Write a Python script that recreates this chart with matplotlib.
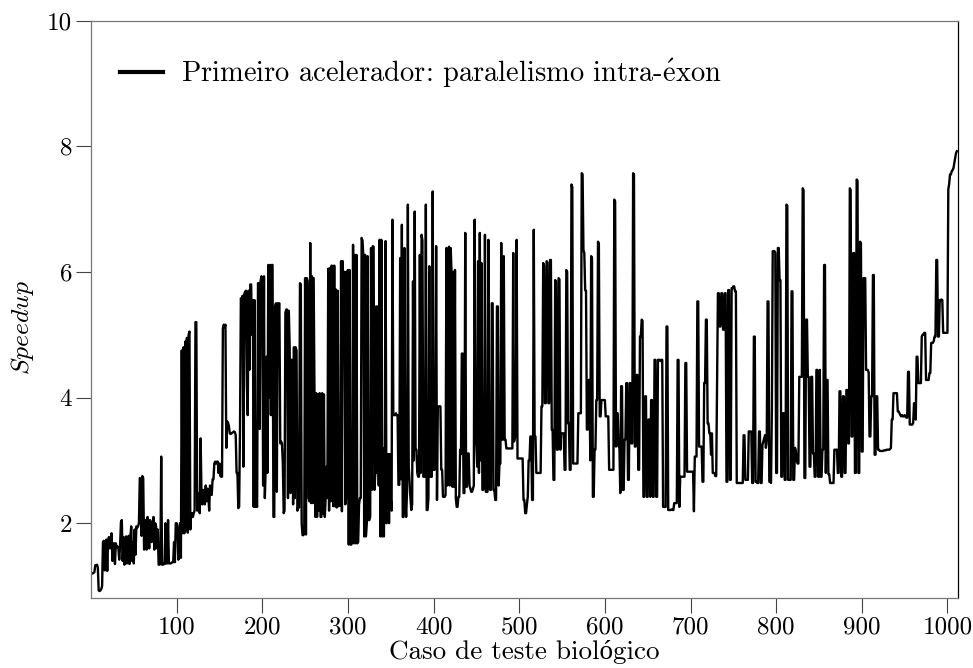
import matplotlib
matplotlib.use("Agg")
import matplotlib.pyplot as plt
import numpy as np

# ---- data (speedup per biological test case) ----
speedup = [
    1.20, 1.20, 1.21, 1.22, 1.33, 1.33, 1.34, 1.30, 0.93, 0.92,
    0.93, 0.95, 1.00, 1.70, 1.72, 1.25, 1.70, 1.74, 1.24, 1.72,
    1.78, 1.60, 1.70, 1.84, 1.40, 1.68, 1.68, 1.35, 1.68, 1.62,
    1.63, 1.60, 1.42, 1.65, 2.02, 2.05, 1.40, 1.78, 1.34, 1.75,
    1.79, 1.36, 1.72, 1.80, 1.35, 1.78, 1.95, 1.40, 1.70, 1.36,
    1.90, 1.50, 1.95, 1.93, 1.95, 2.00, 2.72, 2.70, 1.80, 2.75,
    2.72, 1.58, 1.60, 2.05, 1.58, 2.10, 1.90, 1.60, 2.05, 2.00,
    1.70, 1.95, 2.10, 1.58, 2.00, 1.95, 1.60, 1.90, 1.34, 1.34,
    1.35, 3.06, 1.34, 1.34, 1.36, 1.35, 2.00, 1.36, 1.36, 2.05,
    1.36, 1.36, 1.36, 1.37, 1.38, 1.38, 1.70, 1.38, 2.00, 2.00,
    1.95, 1.42, 1.45, 2.00, 1.45, 4.75, 1.84, 4.80, 1.84, 4.89,
    1.90, 4.95, 1.85, 5.00, 5.05, 1.90, 2.16, 2.16, 2.10, 2.16,
    2.20, 5.20, 5.20, 2.20, 2.48, 2.30, 2.16, 3.35, 2.50, 2.30,
    2.53, 2.40, 2.30, 2.60, 2.35, 2.55, 2.45, 2.20, 2.60, 2.50,
    2.45, 2.70, 2.70, 2.95, 2.98, 2.95, 2.98, 2.98, 2.80, 2.95,
    2.75, 2.74, 2.74, 5.10, 5.16, 5.12, 5.16, 3.20, 3.62, 3.60,
    3.55, 3.43, 3.42, 3.43, 3.44, 3.45, 3.46, 3.45, 3.40, 2.80,
    2.80, 2.24, 2.26, 3.50, 5.58, 5.55, 5.62, 2.90, 5.65, 5.68,
    5.70, 4.20, 3.72, 5.70, 4.44, 5.80, 5.80, 5.00, 5.55, 2.26,
    5.55, 2.26, 2.30, 2.26, 5.82, 5.82, 3.50, 5.85, 5.93, 5.90,
    2.60, 5.93, 2.40, 2.90, 4.65, 2.80, 6.11, 4.00, 6.11, 3.72,
    6.11, 6.11, 2.10, 2.10, 5.45, 5.50, 2.50, 5.50, 5.48, 5.50,
    3.27, 3.30, 3.27, 2.95, 2.16, 2.20, 5.35, 5.40, 5.40, 2.40,
    5.38, 4.80, 2.48, 4.60, 4.60, 2.30, 4.80, 2.40, 4.80, 4.75,
    2.20, 2.26, 2.25, 5.82, 5.80, 2.00, 1.81, 1.81, 1.85, 5.90,
    1.82, 5.90, 5.85, 2.40, 2.35, 6.46, 2.32, 5.93, 2.32, 5.90,
    4.07, 2.10, 4.07, 2.10, 4.05, 2.20, 4.07, 2.10, 2.10, 4.07,
    2.15, 4.05, 2.10, 2.40, 2.90, 2.40, 6.05, 2.20, 6.06, 2.35,
    6.10, 3.00, 2.27, 6.10, 2.27, 5.72, 2.25, 5.70, 2.27, 2.30,
    2.28, 6.17, 2.19, 6.17, 4.87, 6.00, 2.30, 6.00, 2.40, 6.03,
    1.66, 6.03, 1.66, 1.66, 1.70, 6.43, 1.68, 6.27, 1.68, 6.27,
    1.68, 1.70, 2.30, 2.40, 2.40, 6.54, 6.50, 6.27, 1.79, 6.27,
    1.79, 2.00, 6.25, 2.05, 2.05, 2.10, 6.38, 2.53, 6.41, 6.40,
    2.53, 2.80, 5.45, 2.80, 5.45, 2.60, 6.51, 1.79, 6.51, 1.79,
    3.19, 1.79, 3.22, 6.49, 2.00, 2.20, 3.10, 2.00, 3.10, 2.40,
    2.20, 6.83, 3.72, 3.72, 3.72, 3.75, 3.72, 3.72, 2.61, 2.61,
    6.22, 2.70, 6.75, 2.10, 2.10, 6.38, 2.40, 2.10, 2.50, 7.07,
    2.90, 2.64, 2.40, 2.21, 2.30, 5.85, 3.00, 6.96, 3.17, 3.17,
    2.80, 2.74, 2.74, 6.27, 2.80, 6.59, 6.50, 2.74, 2.74, 2.74,
    7.07, 2.21, 2.21, 2.40, 6.09, 2.74, 2.74, 2.74, 7.28, 2.85,
    2.85, 2.90, 6.41, 2.37, 3.86, 3.86, 3.86, 3.86, 2.85, 2.85,
    2.42, 2.42, 2.42, 2.45, 6.38, 2.60, 5.98, 6.40, 2.60, 6.38,
    5.98, 2.58, 6.00, 2.58, 6.03, 2.40, 2.26, 2.26, 2.42, 2.42,
    3.17, 3.10, 4.70, 4.70, 2.48, 2.48, 6.62, 2.58, 2.58, 3.11,
    3.11, 2.60, 2.55, 2.50, 2.50, 2.55, 2.60, 6.83, 3.27, 3.27,
    2.90, 6.17, 2.80, 6.62, 3.00, 6.14, 2.53, 2.53, 2.60, 6.59,
    2.50, 2.50, 2.50, 6.51, 2.60, 2.53, 2.53, 5.50, 5.50, 2.53,
    2.53, 2.37, 2.37, 5.45, 5.45, 2.60, 2.95, 2.95, 6.46, 3.33,
    3.33, 6.25, 3.33, 3.33, 3.19, 3.19, 3.19, 3.19, 3.19, 3.19,
    3.19, 3.19, 6.30, 3.30, 3.38, 3.38, 6.51, 3.03, 3.03, 3.03,
    3.03, 3.03, 3.03, 3.03, 2.37, 2.37, 2.16, 2.16, 2.30, 2.42,
    3.00, 3.00, 3.38, 3.38, 2.37, 2.37, 6.67, 3.38, 3.38, 2.80,
    2.80, 2.80, 2.80, 2.80, 2.80, 3.86, 3.86, 6.14, 6.10, 3.91,
    3.91, 6.17, 6.15, 3.91, 3.91, 6.19, 6.19, 3.49, 3.49, 2.69,
    2.69, 5.87, 5.85, 3.17, 3.17, 5.90, 5.88, 3.17, 3.43, 3.43,
    3.43, 3.43, 2.85, 2.85, 6.03, 6.00, 3.59, 3.59, 2.85, 2.85,
    7.39, 7.35, 2.95, 2.95, 2.95, 2.95, 2.95, 2.95, 3.75, 3.75,
    3.75, 3.75, 7.57, 7.55, 6.35, 6.30, 5.71, 5.70, 3.49, 3.49,
    4.28, 4.28, 3.00, 6.25, 6.22, 2.42, 2.42, 3.17, 3.17, 3.96,
    3.96, 6.48, 6.45, 3.70, 3.70, 3.96, 3.96, 3.96, 3.96, 3.96,
    3.70, 3.70, 3.70, 3.70, 2.85, 2.85, 2.85, 2.85, 2.85, 2.85,
    7.15, 7.12, 3.22, 3.75, 3.75, 3.22, 3.22, 2.48, 4.18, 4.18,
    2.53, 2.53, 3.33, 3.33, 4.23, 4.23, 2.69, 2.69, 4.23, 4.23,
    3.27, 3.27, 7.57, 7.55, 3.22, 3.22, 4.36, 4.36, 2.85, 2.85,
    4.97, 4.97, 5.24, 5.22, 2.42, 2.42, 4.02, 4.02, 2.42, 2.42,
    3.65, 3.65, 2.42, 3.96, 3.96, 2.42, 2.42, 4.60, 4.60, 2.42,
    2.42, 4.60, 4.60, 4.60, 4.58, 4.60, 4.60, 2.26, 2.26, 2.26,
    2.26, 5.13, 5.13, 2.21, 2.21, 2.21, 2.21, 2.22, 2.21, 2.21,
    2.32, 2.32, 2.32, 2.32, 4.60, 4.60, 2.26, 2.74, 2.74, 2.74,
    2.74, 2.74, 2.74, 4.55, 4.55, 2.82, 2.82, 2.82, 2.82, 2.82,
    2.82, 2.82, 2.82, 2.19, 3.06, 3.06, 3.06, 5.53, 5.53, 3.22,
    3.22, 3.22, 3.22, 2.66, 2.66, 4.23, 4.23, 5.24, 5.24, 3.59,
    3.59, 3.43, 3.43, 3.09, 3.43, 2.80, 2.80, 2.80, 2.75, 2.75,
    4.28, 5.66, 5.66, 5.13, 5.13, 5.66, 5.66, 5.08, 5.08, 5.66,
    5.66, 2.66, 2.66, 5.71, 5.71, 2.69, 2.69, 5.74, 5.74, 5.77,
    5.77, 5.69, 5.69, 2.64, 2.64, 2.64, 2.64, 2.64, 2.64, 2.64,
    2.64, 3.40, 3.40, 2.69, 2.69, 2.69, 2.69, 3.46, 3.46, 3.46,
    3.46, 2.64, 2.64, 4.97, 4.97, 2.66, 2.66, 2.64, 2.64, 3.46,
    3.46, 2.64, 2.64, 3.25, 3.30, 3.35, 3.40, 3.20, 3.30, 5.53,
    5.53, 2.66, 2.66, 2.64, 3.80, 6.33, 6.33, 6.33, 6.30, 2.80,
    2.80, 6.38, 6.38, 5.87, 5.87, 2.74, 2.74, 3.75, 3.75, 2.69,
    2.69, 7.07, 7.05, 2.69, 2.69, 2.69, 2.69, 5.69, 5.69, 2.69,
    2.69, 3.20, 3.15, 3.00, 2.95, 2.95, 4.33, 4.33, 4.33, 4.33,
    7.33, 7.30, 2.72, 2.72, 5.24, 5.24, 4.33, 4.33, 2.90, 2.90,
    4.33, 4.33, 3.11, 3.11, 2.74, 2.74, 4.44, 4.44, 2.74, 2.74,
    4.44, 2.74, 2.74, 3.17, 3.17, 6.11, 6.11, 2.80, 4.28, 4.28,
    2.78, 2.78, 2.64, 2.64, 2.64, 2.64, 2.64, 3.17, 3.17, 3.17,
    3.17, 2.80, 2.80, 4.10, 4.10, 2.74, 2.74, 4.02, 4.02, 2.80,
    2.80, 4.12, 4.12, 3.27, 3.27, 7.33, 7.30, 3.38, 3.38, 6.30,
    6.30, 2.80, 2.80, 7.47, 7.45, 2.80, 2.80, 6.48, 6.45, 3.14,
    3.14, 5.90, 5.90, 5.90, 4.44, 4.44, 4.44, 4.40, 3.38, 3.38,
    4.02, 4.02, 5.95, 5.95, 3.09, 3.09, 4.02, 4.02, 3.17, 3.17,
    3.15, 3.15, 3.15, 3.15, 3.15, 3.16, 3.16, 3.16, 3.17, 3.17,
    3.17, 3.17, 3.18, 3.20, 3.65, 3.65, 4.07, 4.07, 4.07, 4.07,
    4.07, 3.78, 3.78, 3.75, 3.72, 3.70, 3.72, 3.70, 3.70, 3.72,
    3.70, 3.68, 3.68, 4.41, 4.41, 3.57, 3.57, 3.57, 3.57, 3.60,
    3.91, 3.91, 3.65, 4.65, 4.65, 4.23, 4.23, 4.23, 4.23, 4.97,
    5.00, 5.00, 5.03, 5.03, 4.28, 4.28, 4.28, 4.28, 4.39, 4.39,
    4.87, 4.87, 4.87, 4.90, 4.97, 4.97, 6.19, 6.19, 4.97, 4.97,
    5.55, 5.55, 5.56, 5.55, 5.03, 5.03, 5.03, 5.03, 5.03, 5.03,
    7.31, 7.40, 7.55, 7.55, 7.60, 7.62, 7.65, 7.73, 7.80, 7.89, 7.92,
]
cases = list(range(1, len(speedup) + 1))

x_ticks = [100, 200, 300, 400, 500, 600, 700, 800, 900, 1000]
x_ticklabels = ["100", "200", "300", "400", "500", "600", "700", "800", "900", "1000"]
y_ticks = [2, 4, 6, 8, 10]
y_ticklabels = ["2", "4", "6", "8", "10"]

# legend: accent drawn with Computer Modern math accent (cmr10 lacks é)
series_label = r"Primeiro acelerador: paralelismo intra-$\mathrm{\acute{e}}$xon"
# axis label: plain text, the 'ó' falls back to Liberation Serif
x_label = "Caso de teste biológico"
y_label = r"$Speedup$"

# ---- style ----
plt.rcParams["font.family"] = ["cmr10", "Liberation Serif"]
plt.rcParams["mathtext.fontset"] = "cm"
plt.rcParams["axes.formatter.use_mathtext"] = True

fig = plt.figure(figsize=(9.73, 6.68), dpi=100)
ax = fig.add_axes([0.0935, 0.1048, 0.8908, 0.8645])

ax.plot(cases, speedup, color="black", linewidth=1.7, label=series_label,
        solid_joinstyle="round")

ax.set_xlim(0, 1012)
ax.set_ylim(0.81, 10)
ax.set_xticks(x_ticks)
ax.set_xticklabels(x_ticklabels)
ax.set_yticks(y_ticks)
ax.set_yticklabels(y_ticklabels)
ax.tick_params(axis="both", direction="out", length=10.5, width=0.8,
               labelsize=18, pad=3, color="#444444")
ax.tick_params(axis="x", pad=2.5)

for side in ["left", "top", "bottom"]:
    ax.spines[side].set_color("#777777")
    ax.spines[side].set_linewidth(0.9)
ax.spines["right"].set_color("black")
ax.spines["right"].set_linewidth(0.9)

ax.set_xlabel(x_label, fontsize=19.5, labelpad=1.5)
ax.set_ylabel(y_label, fontsize=18.5, labelpad=8)
ax.yaxis.label.set_y(0.468)

leg = ax.legend(loc="upper left", bbox_to_anchor=(0.004, 0.982), frameon=False,
                fontsize=20.5, handlelength=1.5, handletextpad=0.65)
for h in leg.get_lines():
    h.set_linewidth(3)

fig.savefig("out.png", dpi=100)
